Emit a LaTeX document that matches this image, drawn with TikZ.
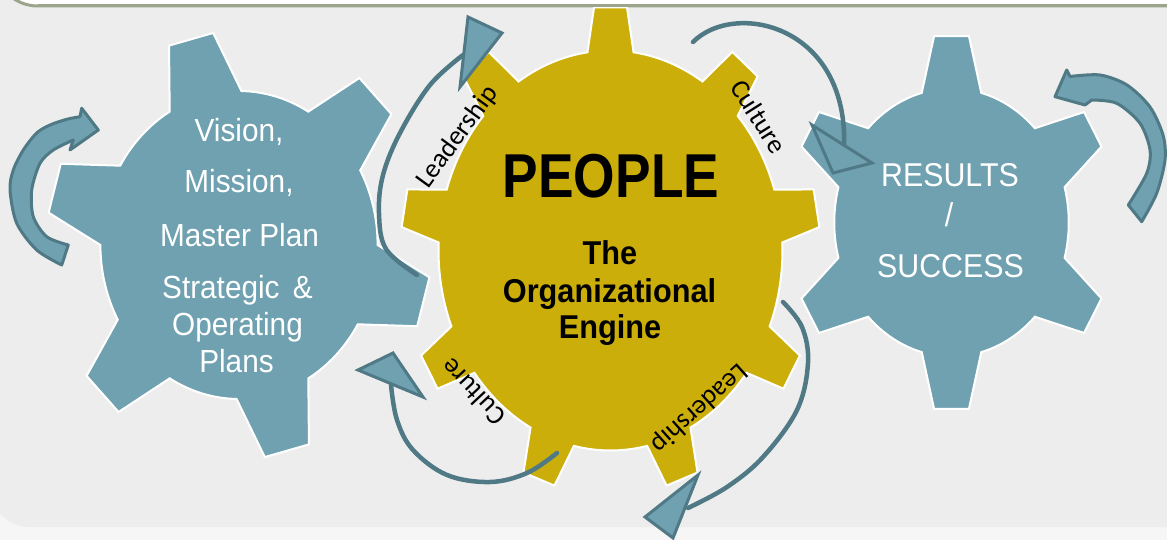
\documentclass[tikz,border=0pt]{standalone}
\usepackage{fontspec}
\setmainfont{Liberation Sans}
\newfontfamily\calib{Carlito}
\definecolor{gearblue}{RGB}{111,161,177}
\definecolor{darkline}{RGB}{80,121,134}
\definecolor{gearyellow}{RGB}{204,174,10}
\definecolor{bggray}{RGB}{237,237,237}
\definecolor{pagegray}{RGB}{246,246,246}
\definecolor{framegreen}{RGB}{155,165,140}
\tikzset{
  gearedge/.style={draw=white, line width=2pt, line join=miter},
  arcline/.style={draw=darkline, line width=4.5pt, line cap=round},
  tri/.style={fill=gearblue, draw=darkline, line width=3pt, line join=miter},
  blockarrow/.style={fill=gearblue, draw=darkline, line width=3pt, line join=round},
  whitetext/.style={text=white, font=\fontsize{32}{32}\selectfont, anchor=base, xscale=0.93, inner sep=0pt},
  boldtext/.style={text=black, font=\bfseries\fontsize{33}{33}\selectfont, anchor=base, xscale=0.93, inner sep=0pt},
  restext/.style={text=white, font=\fontsize{33}{33}\selectfont, anchor=base, xscale=0.92, inner sep=0pt},
  arclabel/.style={text=black, font=\calib\fontsize{27}{27}\selectfont, inner sep=0pt}
}
\begin{document}
\begin{tikzpicture}[x=1pt,y=-1pt]
\useasboundingbox (0,0) rectangle (1167,540);
% page and panel background
\fill[pagegray] (0,0) rectangle (1167,540);
\fill[bggray, rounded corners=40pt] (-10,-60) rectangle (1250,527);
\filldraw[fill=white, draw=framegreen, line width=3pt, rounded corners=44pt] (-6,-120) rectangle (1260,6);

% left gear
\begin{scope}[shift={(239,245)}, xscale=0.9, yscale=-1]
\filldraw[fill=gearblue, gearedge] (89:154)
  \foreach \k in {0,...,5}{
    -- ({104.5+60*\k-15.5}:154) -- ({104.5+60*\k-6.8}:214) -- ({104.5+60*\k+6.8}:214) -- ({104.5+60*\k+15.5}:154)
    arc[start angle={104.5+60*\k+15.5}, end angle={104.5+60*\k+44.5}, radius=154]
  } -- cycle;
\end{scope}

% right gear
\begin{scope}[shift={(951.5,222.5)}, xscale=0.875, yscale=-1]
\filldraw[fill=gearblue, gearedge] (75.3:134)
  \foreach \k in {0,...,5}{
    -- ({90+60*\k-14.7}:134) -- ({90+60*\k-6.1}:187.5) -- ({90+60*\k+6.1}:187.5) -- ({90+60*\k+14.7}:134)
    arc[start angle={90+60*\k+14.7}, end angle={90+60*\k+45.3}, radius=134]
  } -- cycle;
\end{scope}

% centre gear
\begin{scope}[shift={(610.5,250.5)}, xscale=0.86, yscale=-1]
\filldraw[fill=gearyellow, gearedge] (2.3:200)
  \foreach \k in {0,...,8}{
    -- ({10+40*\k-7.7}:200) -- ({10+40*\k-4.5}:244) -- ({10+40*\k+4.5}:244) -- ({10+40*\k+7.7}:200)
    arc[start angle={10+40*\k+7.7}, end angle={10+40*\k+32.3}, radius=200]
  } -- cycle;
\end{scope}

% frame line over the top tooth
\draw[framegreen, line width=3pt] (38,6) -- (1167,6);

% thin arcs with triangular heads
\coordinate (ulS) at (417,275);
\coordinate (urS) at (693,42);
\coordinate (urE) at (844,150);
\draw[arcline] plot[smooth, tension=0.6] coordinates {(ulS) (386,249) (379,213) (383,175) (400,133) (430,85) (463,55)};
\filldraw[tri] (468,17) -- (502,33) -- (460,87) -- cycle;

\draw[arcline] (urS) .. controls (735,0) and (850,25) .. (urE);
\filldraw[tri] (812,125) -- (833,173) -- (872,163) -- cycle;

\draw[arcline] plot[smooth, tension=0.6] coordinates {(557,453) (527,473) (490,482) (447,475) (413,450) (397,420) (391,385)};
\filldraw[tri] (358,370) -- (393,353) -- (423,397) -- cycle;

\draw[arcline] plot[smooth, tension=0.6] coordinates {(783,302) (802,327) (808,363) (797,410) (763,457) (727,487) (688,508)};
\filldraw[tri] (698,475) -- (645,517) -- (673,538) -- cycle;

% block circular arrows
\filldraw[blockarrow] plot[smooth] coordinates {(61.7,265) (36.7,250) (16.7,223.3) (10,190) (13.3,170) (23.3,150) (36.7,133) (50,125) (66.7,119.3) (80,116.7)}
  -- (81.7,108.3) -- (98.3,130) -- (70,150) -- (73.3,140)
  -- plot[smooth] coordinates {(73.3,140) (53.3,150) (40,163.3) (31.7,190) (33.3,216.7) (46.7,236.7) (68.3,245)} -- cycle;

\filldraw[blockarrow] plot[smooth] coordinates {(1141.7,221.7) (1156.7,193.3) (1165,160) (1163,135) (1150,107) (1127,85) (1100,75) (1070,76.5)}
  -- (1066.7,70) -- (1055,96.7) -- (1085,105) -- (1091.7,100)
  -- plot[smooth] coordinates {(1091.7,100) (1116.7,103.3) (1140,123.3) (1150,150) (1146.7,173.3) (1128.3,205)} -- cycle;

% texts: left gear
\node[whitetext] (vision) at (239,142) {Vision,};
\node[whitetext] (mission) at (239,193) {Mission,};
\node[whitetext] (master) at (239.5,247) {Master Plan};
\node[whitetext] (strategic) at (237.5,298) {Strategic\hspace{0.45em}\&};
\node[whitetext] (operating) at (237.5,335) {Operating};
\node[whitetext] (plans) at (236.5,372) {Plans};

% texts: centre gear
\node[text=black, font=\bfseries\fontsize{62}{62}\selectfont, anchor=base, xscale=0.86, inner sep=0pt] (people) at (611,197) {PEOPLE};
\node[boldtext] (the) at (610,264) {The};
\node[boldtext] (org) at (609.5,302) {Organizational};
\node[boldtext] (engine) at (610,338) {Engine};

% texts: right gear
\node[restext] (results) at (950,187) {RESULTS};
\node[restext] (slash) at (949,226) {/};
\node[restext] (success) at (950.5,277) {SUCCESS};

% arc labels
\node[arclabel, rotate=54] (leadUL) at (457.5,137.4) {Leadership};
\node[arclabel, rotate=-57.6] (cultUR) at (759,116.7) {Culture};
\node[arclabel, rotate=133] (cultLL) at (473,392) {Culture};
\node[arclabel, rotate=222] (leadLR) at (699,408) {Leadership};
\end{tikzpicture}
\end{document}
